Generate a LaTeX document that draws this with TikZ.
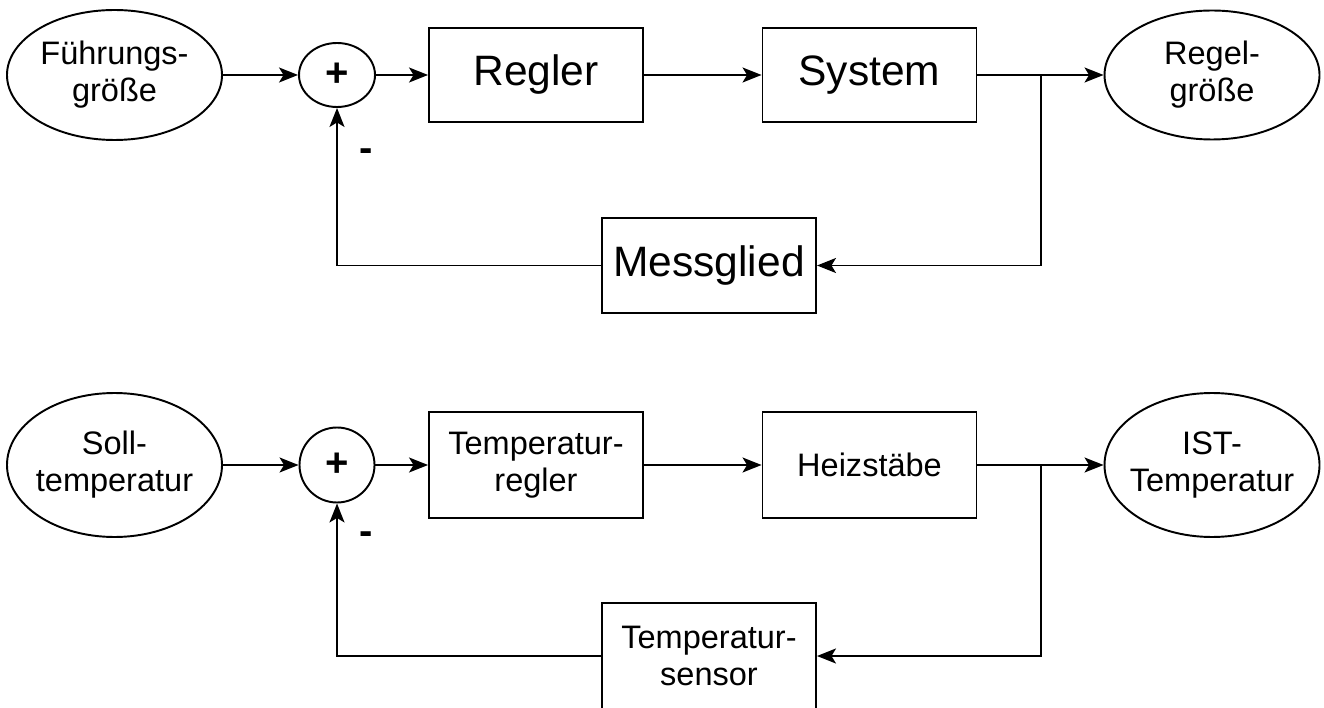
\documentclass[tikz,border=0pt]{standalone}
\usepackage{fontspec}
\setmainfont{Liberation Sans}
\usetikzlibrary{arrows.meta,shapes.geometric,positioning}

\begin{document}
\begin{tikzpicture}[>={Stealth[length=0.38cm,width=0.3cm,inset=0.09cm]},
  every path/.style={line width=1.1pt},
  txt/.style={font=\fontsize{18.5}{21}\selectfont, align=center},
  bigtxt/.style={font=\fontsize{24.2}{28}\selectfont},
  blockbox/.style={draw, rectangle, inner sep=0pt, minimum width=4.28cm},
  signal/.style={draw, ellipse, inner xsep=-0.6cm, inner ysep=-0.4cm, minimum width=4.3cm, txt},
  summer/.style={draw, ellipse, inner sep=0pt, font=\fontsize{22.8}{26}\selectfont\bfseries},
  sign/.style={font=\fontsize{22.8}{26}\selectfont\bfseries}]
  \useasboundingbox (0,0) rectangle (26.48,14.14);
% Top loop
  \node[signal, minimum height=2.6cm] (fg) at (2.29,12.64) {Führungs-\\größe};
  \node[summer, minimum width=1.52cm, minimum height=1.28cm] (sumA) at (6.74,12.64) {+};
  \node[blockbox, minimum height=1.88cm, bigtxt] (regler) at (10.72,12.64) {Regler};
  \node[blockbox, minimum height=1.88cm, bigtxt] (system) at (17.39,12.64) {System};
  \node[signal, minimum height=2.58cm] (rg) at (24.24,12.64) {Regel-\\größe};
  \node[blockbox, minimum height=1.9cm, bigtxt] (mess) at (14.18,8.83) {Messglied};
  \node[sign] (minusA) at (7.32,11.04) {-};
  \coordinate (jA) at (20.82,12.64);
  \draw[->] (fg) -- (sumA);
  \draw[->] (sumA) -- (regler);
  \draw[->] (regler) -- (system);
  \draw[->] (system) -- (rg);
  \draw[->] (jA) |- (mess);
  \draw[->] (mess) -| (sumA);
% Bottom loop
  \node[signal, minimum height=2.88cm] (soll) at (2.29,4.84) {Soll-\\temperatur};
  \node[summer, minimum width=1.5cm, minimum height=1.5cm] (sumB) at (6.74,4.84) {+};
  \node[blockbox, minimum height=2.12cm, txt] (tregler) at (10.72,4.84) {Temperatur-\\regler};
  \node[blockbox, minimum height=2.12cm, txt] (heiz) at (17.39,4.84) {Heizstäbe};
  \node[signal, minimum height=2.88cm] (ist) at (24.24,4.84) {IST-\\Temperatur};
  \node[blockbox, minimum height=2.12cm, txt] (sensor) at (14.18,1.02) {Temperatur-\\sensor};
  \node[sign] (minusB) at (7.32,3.38) {-};
  \coordinate (jB) at (20.82,4.84);
  \draw[->] (soll) -- (sumB);
  \draw[->] (sumB) -- (tregler);
  \draw[->] (tregler) -- (heiz);
  \draw[->] (heiz) -- (ist);
  \draw[->] (jB) |- (sensor);
  \draw[->] (sensor) -| (sumB);
\end{tikzpicture}
\end{document}
